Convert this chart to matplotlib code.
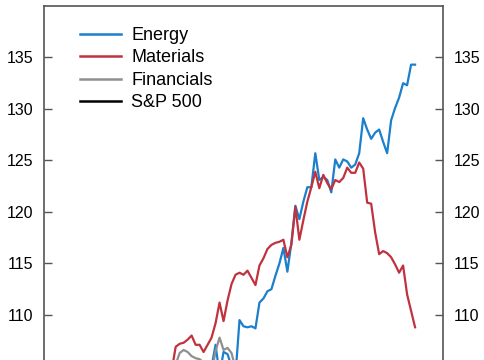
import matplotlib.pyplot as plt

plt.rcParams['font.family'] = ['Liberation Sans', 'DejaVu Sans']

# week index shared by all series
weeks = list(range(20, 94))

energy = [100.2, 100.8, 100.5, 101.3, 101.0, 101.9, 102.4, 102.0, 102.8, 103.1,
          102.7, 103.4, 103.9, 103.5, 104.1, 103.8, 104.4, 104.0, 104.6, 104.2,
          104.8, 104.4, 105.0, 107.1, 104.2, 106.4, 106.2, 105.0, 104.2, 109.5,
          108.9, 108.8, 108.9, 108.7, 111.2, 111.6, 112.3, 112.5, 113.8, 115.0,
          116.5, 114.2, 117.0, 120.6, 119.3, 121.0, 122.4, 122.4, 125.7, 123.1,
          123.4, 123.1, 121.9, 125.1, 124.3, 125.1, 124.9, 124.3, 124.6, 125.7,
          129.1, 128.0, 127.1, 127.7, 128.0, 126.8, 125.7, 128.9, 130.1, 131.1,
          132.5, 132.3, 134.3, 134.3]

materials = [98.5, 99.0, 98.7, 99.5, 100.2, 100.0, 101.0, 101.8, 101.5, 102.6,
             103.3, 103.9, 104.6, 106.9, 107.2, 107.3, 107.6, 108.0, 107.1, 107.1,
             106.4, 107.1, 107.8, 109.2, 111.2, 109.4, 111.4, 113.0, 113.9, 114.1,
             113.9, 114.3, 113.6, 112.9, 114.8, 115.5, 116.4, 116.8, 117.0, 117.1,
             117.3, 115.6, 116.8, 120.5, 117.3, 119.2, 121.0, 122.4, 123.9, 122.3,
             123.6, 122.8, 122.2, 123.1, 122.9, 123.3, 124.3, 123.8, 123.8, 124.8,
             124.2, 120.9, 120.8, 118.0, 115.9, 116.2, 116.0, 115.6, 114.9, 114.1,
             114.8, 112.0, 110.4, 108.8]

financials = [99.0, 99.6, 99.2, 100.1, 100.6, 100.3, 101.2, 101.9, 101.6, 102.5,
              103.0, 103.6, 104.3, 105.2, 106.3, 106.6, 106.4, 106.0, 105.8, 105.7,
              105.4, 104.6, 104.3, 106.5, 107.8, 106.6, 106.8, 106.3, 104.8, 104.2,
              104.0, 103.6, 103.9, 103.4, 103.8, 104.1, 103.7, 104.2, 104.5, 104.0,
              104.3, 103.8, 104.2, 104.6, 104.1, 104.4, 104.8, 104.5, 104.9, 104.6,
              104.3, 104.7, 104.4, 104.8, 104.5, 104.9, 104.6, 104.3, 104.7, 105.0,
              104.6, 104.2, 104.0, 103.6, 103.3, 103.0, 103.4, 102.8, 102.5, 102.9,
              102.4, 102.1, 101.8, 101.5]

sp500 = [99.5, 99.8, 99.6, 100.2, 100.5, 100.3, 100.9, 101.3, 101.1, 101.7,
         102.0, 102.4, 102.8, 103.3, 103.6, 103.8, 103.5, 103.2, 103.0, 102.9,
         102.6, 102.3, 102.1, 102.9, 103.4, 103.0, 103.2, 102.8, 102.4, 102.7,
         102.9, 103.1, 102.8, 103.2, 103.5, 103.3, 103.7, 103.9, 104.1, 103.8,
         104.2, 103.9, 104.3, 104.6, 104.2, 104.4, 104.7, 104.5, 104.8, 104.6,
         104.3, 104.6, 104.4, 104.7, 104.5, 104.8, 104.6, 104.4, 104.7, 104.9,
         104.5, 104.1, 103.8, 103.5, 103.1, 102.8, 103.0, 102.6, 102.3, 102.6,
         102.2, 101.9, 101.6, 101.3]

series_names = ['Energy', 'Materials', 'Financials', 'S&P 500']
colors = ['#1b7fcc', '#c0323d', '#8f8f8f', '#000000']

fig = plt.figure(figsize=(4.85, 3.6), dpi=100)
ax = fig.add_axes([0.0907, -0.304, 0.8227, 1.2875])

for vals, name, c in zip([energy, materials, financials, sp500], series_names, colors):
    ax.plot(weeks, vals, color=c, lw=1.6, label=name)

ax.set_xlim(0, 100)
ax.set_ylim(95, 140)
ax.set_yticks([100, 105, 110, 115, 120, 125, 130, 135])
ax.set_xticks([])
ax.tick_params(axis='y', direction='in', length=6, width=1, color='#555555',
               labelsize=11.5, left=True, right=True, labelleft=True, labelright=True, pad=7.5)
for s in ax.spines.values():
    s.set_color('#555555')
    s.set_linewidth(1.2)

leg = ax.legend(loc='upper left', bbox_to_anchor=(0.072, 0.97), frameon=False,
                fontsize=13, handlelength=2.3, handletextpad=0.55, labelspacing=0.3,
                borderaxespad=0)
for h in leg.get_lines():
    h.set_linewidth(1.8)

fig.savefig('out.png', dpi=100)
